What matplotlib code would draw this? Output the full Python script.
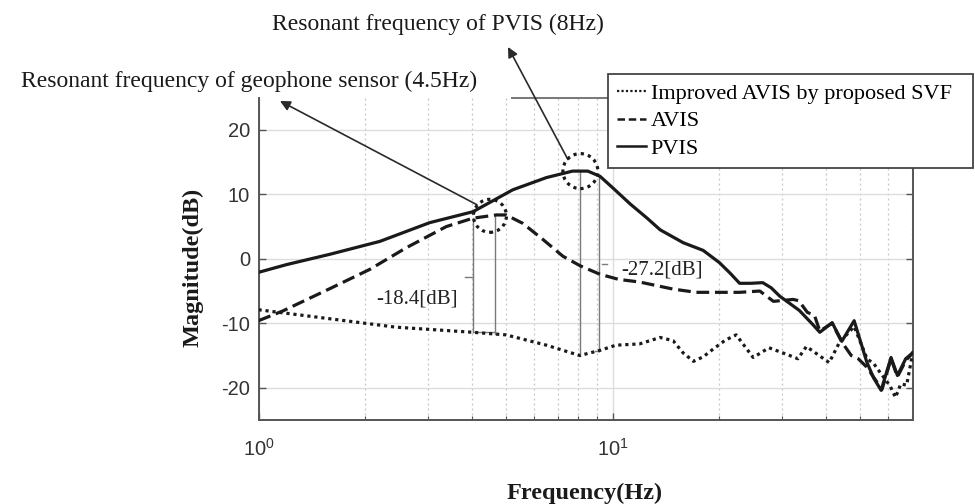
import numpy as np
import matplotlib
matplotlib.use("Agg")
import matplotlib.pyplot as plt
from matplotlib.patches import Ellipse
from matplotlib.lines import Line2D

# ---------------- data ----------------
pvis_freq = [1.0, 1.2, 1.59, 2.2, 3.04, 4.03, 5.22, 6.5, 7.7, 8.5, 9.2, 10.0, 11.2, 12.5,
             13.6, 15.8, 18.0, 20.0, 21.5, 22.8, 24.5, 26.5, 28.0, 29.6, 33.6, 36.7, 38.4,
             41.6, 44.3, 48.0, 52.1, 54.5, 57.2, 61.0, 63.6, 67.1, 70.5]
pvis_db = [-2.1, -0.9, 0.7, 2.7, 5.6, 7.3, 10.7, 12.6, 13.6, 13.6, 12.8, 11.0, 8.5, 6.3,
           4.5, 2.5, 1.3, -0.6, -2.3, -3.8, -3.8, -3.7, -4.5, -5.8, -8.0, -10.2, -11.4,
           -9.9, -12.8, -9.6, -16.0, -18.5, -20.4, -15.3, -18.1, -15.5, -14.5]

avis_freq = [1.0, 1.17, 1.58, 2.06, 2.61, 3.39, 4.03, 4.69, 5.0, 5.57, 6.35, 7.23, 8.1, 9.2,
             10.4, 11.9, 14.8, 17.2, 22.8, 26.0, 28.4, 32.3, 33.5, 35.4, 37.1, 38.4, 41.6,
             44.3, 47.1, 49.3, 52.1, 56.6, 57.5, 61.0, 63.6, 67.1, 70.5]
avis_db = [-9.6, -8.1, -4.7, -1.65, 1.7, 5.0, 6.3, 6.8, 6.8, 5.5, 3.0, 0.4, -1.1, -2.4,
           -3.2, -3.6, -4.7, -5.2, -5.2, -5.0, -6.6, -6.3, -6.5, -8.3, -8.8, -11.2, -10.0,
           -12.9, -15.0, -15.5, -16.8, -19.7, -20.3, -15.5, -18.3, -15.8, -14.5]

svf_freq = [1.0, 1.59, 2.44, 4.03, 5.0, 6.5, 8.07, 9.2, 10.2, 11.9, 13.6, 14.8, 15.8, 16.9,
            18.0, 19.2, 20.8, 22.3, 23.6, 24.9, 27.6, 30.9, 33.3, 35.2, 40.8, 43.6, 48.0,
            52.2, 54.6, 56.6, 60.6, 62.8, 65.0, 67.5, 70.5]
svf_db = [-7.9, -9.3, -10.6, -11.4, -11.8, -13.4, -15.0, -14.2, -13.4, -13.2, -12.2, -12.7,
          -14.6, -15.9, -15.2, -14.0, -12.6, -11.8, -13.6, -15.3, -13.8, -14.8, -15.5, -13.6,
          -16.1, -13.0, -10.5, -15.5, -16.3, -17.5, -19.7, -21.5, -19.4, -19.6, -14.2]

legend_labels = ["Improved AVIS by proposed SVF", "AVIS", "PVIS"]
y_ticks = [-20, -10, 0, 10, 20]
x_limits = (1.0, 70.5)
y_limits = (-25, 25)

title_geophone = "Resonant frequency of geophone sensor (4.5Hz)"
title_pvis = "Resonant frequency of PVIS (8Hz)"
gap_labels = ["-18.4[dB]", "-27.2[dB]"]
resonances = [4.5, 8.1]           # Hz, circled
gap_freqs_avis = [4.03, 4.66]     # Hz, dimension lines (AVIS vs improved)
gap_freqs_pvis = [8.07, 9.15]     # Hz, dimension lines (PVIS vs improved)

# ---------------- style ----------------
plt.rcParams["font.family"] = ["Liberation Sans", "DejaVu Sans"]
plt.rcParams["axes.unicode_minus"] = False
SERIF = ["Liberation Serif", "DejaVu Serif"]
INK = "#1a1a1a"
GRAYLINE = "#7a7a7a"

W, H = 975, 504
fig = plt.figure(figsize=(W / 100, H / 100), dpi=100)
L, R, T, B = 258.5, 913.3, 97.6, 420.0
ax = fig.add_axes([L / W, 1 - B / H, (R - L) / W, (B - T) / H])

ax.set_xscale("log")
ax.set_xlim(*x_limits)
ax.set_ylim(*y_limits)
ax.set_yticks(y_ticks)

ax.grid(which="major", color="#dddddd", lw=1.0, ls="-")
ax.grid(which="minor", axis="x", color="#c4c4c4", lw=0.9, ls=(0, (1.5, 2.5)))
ax.set_axisbelow(True)

ax.tick_params(which="both", direction="in", right=True, top=False,
               labelsize=14.5, labelcolor="#333333", color="#555555")
ax.tick_params(which="major", length=5, width=1.0)
ax.tick_params(which="minor", length=3, width=0.8)
ax.tick_params(axis="x", which="major", pad=13)
ax.tick_params(axis="y", which="major", pad=6)

for s in ax.spines.values():
    s.set_color("#555555")
    s.set_linewidth(1.4)
ax.spines["top"].set_bounds(5.19, x_limits[1])
ax.spines["top"].set_color("#777777")

# ---------------- curves ----------------
l_svf, = ax.plot(svf_freq, svf_db, color=INK, lw=2.3, ls=(0, (1, 1.2)), zorder=3)
l_avis, = ax.plot(avis_freq, avis_db, color=INK, lw=2.3, ls=(0, (4, 1.8)), zorder=4)
l_pvis, = ax.plot(pvis_freq, pvis_db, color=INK, lw=2.3, ls="-", zorder=5)

# ---------------- labels ----------------
ax.set_xlabel("Frequency(Hz)", family=SERIF, fontweight="bold", fontsize=17.5,
              va="center", color=INK)
ax.xaxis.set_label_coords((585 - L) / (R - L), (B - 493) / (B - T))
ax.set_ylabel("Magnitude(dB)", family=SERIF, fontweight="bold", fontsize=17.5,
              va="center", ha="center", color=INK)
ax.yaxis.set_label_coords((193 - L) / (R - L), (B - 267) / (B - T))

# ---------------- legend ----------------
handles = [Line2D([], [], color=INK, lw=1.6, ls=(0, (1, 1))),
           Line2D([], [], color=INK, lw=1.8, ls=(0, (3, 1.5))),
           Line2D([], [], color=INK, lw=1.8, ls="-")]
leg = fig.legend(handles, legend_labels, loc="upper left",
                 bbox_to_anchor=(608 / W, 1 - 74 / H, (973 - 608) / W, 0.0001),
                 mode="expand", prop={"family": SERIF, "size": 16},
                 frameon=True, fancybox=False, framealpha=1, edgecolor="#444444",
                 borderpad=0.42, handlelength=1.3, handletextpad=0.2,
                 labelspacing=0.31, borderaxespad=0)
leg.get_frame().set_linewidth(1.3)

# ---------------- annotations ----------------
fig.text(249 / W, 1 - 87 / H, title_geophone, ha="center", va="baseline",
         family=SERIF, fontsize=17, color=INK)
fig.text(437.5 / W, 1 - 30 / H, title_pvis, ha="center", va="baseline",
         family=SERIF, fontsize=17, color=INK)

arrow_kw = dict(arrowstyle="-|>", color="#2a2a2a", lw=1.2, mutation_scale=15,
                shrinkA=0, shrinkB=0)
ax.annotate("", xy=(280 / W, 1 - 101 / H), xycoords="figure fraction",
            xytext=(4.13, 8.4), textcoords="data", arrowprops=arrow_kw,
            annotation_clip=False)
ax.annotate("", xy=(508 / W, 1 - 47 / H), xycoords="figure fraction",
            xytext=(7.47, 15.4), textcoords="data", arrowprops=arrow_kw,
            annotation_clip=False)

# dotted circles around resonances (drawn in axes fraction so they stay round)
to_axes = ax.transData + ax.transAxes.inverted()
for f, series_f, series_d, rad in [(resonances[0], avis_freq, avis_db, 16.5),
                                   (resonances[1], pvis_freq, pvis_db, 17.5)]:
    yv = np.interp(np.log10(f), np.log10(series_f), series_d)
    cx, cy = to_axes.transform((f, yv))
    ax.add_patch(Ellipse((cx, cy), 2 * rad / (R - L), 2 * rad / (B - T),
                         transform=ax.transAxes, fill=False, ec=INK,
                         lw=2.3, ls=(0, (1, 1.3)), zorder=6, clip_on=False))


def interp_db(f, fs, ds):
    return np.interp(np.log10(f), np.log10(fs), ds)


# dimension lines for the -18.4 dB gap (AVIS vs improved)
for f in gap_freqs_avis:
    ax.plot([f, f], [interp_db(f, avis_freq, avis_db), interp_db(f, svf_freq, svf_db)],
            color=GRAYLINE, lw=1.0, zorder=2)
ax.plot(gap_freqs_avis, [interp_db(gap_freqs_avis[0], svf_freq, svf_db)] * 2,
        color=GRAYLINE, lw=1.0, zorder=2)
ax.plot([3.82, gap_freqs_avis[0]], [-2.8, -2.8], color=GRAYLINE, lw=1.0, zorder=2)

# dimension lines for the -27.2 dB gap (PVIS vs improved)
for f in gap_freqs_pvis:
    ax.plot([f, f], [interp_db(f, pvis_freq, pvis_db), interp_db(f, svf_freq, svf_db)],
            color=GRAYLINE, lw=1.0, zorder=2)
ax.plot([8.9, gap_freqs_pvis[1]], [interp_db(gap_freqs_pvis[1], svf_freq, svf_db)] * 2,
        color=GRAYLINE, lw=1.0, zorder=2)
ax.plot([9.3, 9.6], [-0.85, -0.85], color=GRAYLINE, lw=1.0, zorder=2)

ax.text(2.8, -6.26, gap_labels[0], ha="center", va="center", family=SERIF,
        fontsize=15, color="#222222", zorder=7)
ax.text(13.8, -1.78, gap_labels[1], ha="center", va="center", family=SERIF,
        fontsize=15, color="#222222", zorder=7)

fig.savefig("out.png", dpi=100, facecolor="white")
